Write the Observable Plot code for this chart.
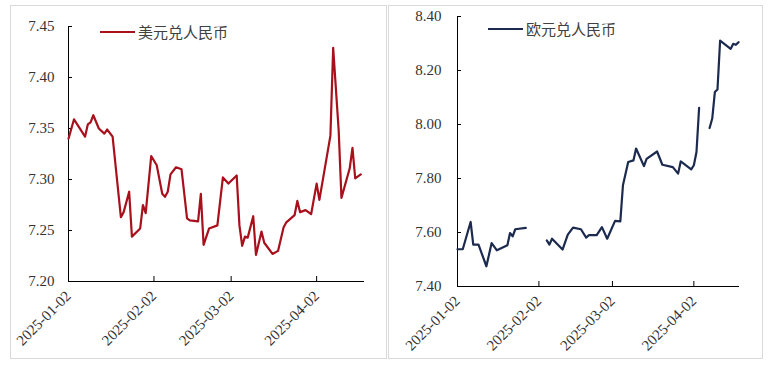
<!DOCTYPE html>
<html><head><meta charset="utf-8">
<script src="https://cdn.jsdelivr.net/npm/d3@7"></script>
<script src="https://cdn.jsdelivr.net/npm/@observablehq/plot@0.6"></script>
<style>
body{margin:0;background:#fff;width:770px;height:369px;position:relative;overflow:hidden}
.panel{position:absolute;border:1px solid #d9d9d9;box-sizing:border-box}
.chart{position:absolute;top:0}
.legend{position:absolute;display:flex;align-items:center;font-family:"Noto Sans CJK SC","Noto Sans",sans-serif;font-size:15px;color:#404040;line-height:20px}
.legend .sw{width:35px;height:2.5px;margin-right:3px}
</style></head><body>
<div class="panel" style="left:10px;top:5px;width:377px;height:354px"></div>
<div class="panel" style="left:388px;top:5px;width:375px;height:354px"></div>
<div id="left" class="chart" style="left:0"></div>
<div id="right" class="chart" style="left:385px"></div>
<div class="legend" style="left:100px;top:22px"><div class="sw" style="background:#a8101c"></div><span>美元兑人民币</span></div>
<div class="legend" style="left:488px;top:19px"><div class="sw" style="background:#1b2a4e"></div><span>欧元兑人民币</span></div>
<script>
const xDomain = ["2025-01-02", "2025-04-19"];
const xTicks = ["2025-01-02", "2025-02-02", "2025-03-02", "2025-04-02"];

const usdLabel = "美元兑人民币";
const usdDates = ["2025-01-02","2025-01-04","2025-01-08","2025-01-09","2025-01-10","2025-01-11","2025-01-13","2025-01-15","2025-01-16","2025-01-18",
"2025-01-21","2025-01-22","2025-01-24","2025-01-25","2025-01-28","2025-01-29","2025-01-30","2025-02-01","2025-02-03","2025-02-05",
"2025-02-06","2025-02-07","2025-02-08","2025-02-10","2025-02-12","2025-02-14","2025-02-15","2025-02-18","2025-02-19","2025-02-20",
"2025-02-22","2025-02-25","2025-02-27","2025-03-01","2025-03-04","2025-03-05","2025-03-06","2025-03-07","2025-03-08","2025-03-10",
"2025-03-11","2025-03-13","2025-03-14","2025-03-17","2025-03-19","2025-03-21","2025-03-22","2025-03-25","2025-03-26","2025-03-27",
"2025-03-29","2025-03-31","2025-04-02","2025-04-03","2025-04-07","2025-04-08","2025-04-10","2025-04-11","2025-04-14","2025-04-15",
"2025-04-16","2025-04-18"];
const usdValues = [7.340,7.359,7.342,7.354,7.356,7.363,7.350,7.345,7.349,7.342,
7.263,7.268,7.288,7.244,7.252,7.275,7.267,7.323,7.314,7.286,
7.283,7.288,7.305,7.312,7.310,7.262,7.260,7.259,7.286,7.236,
7.252,7.255,7.302,7.296,7.304,7.255,7.235,7.244,7.243,7.264,
7.226,7.249,7.238,7.227,7.230,7.253,7.258,7.265,7.279,7.268,
7.270,7.266,7.296,7.280,7.343,7.429,7.348,7.282,7.311,7.331,
7.301,7.305];
const usdYDomain = [7.20, 7.45];
const usdYTicks = [7.20, 7.25, 7.30, 7.35, 7.40, 7.45];

const eurLabel = "欧元兑人民币";
const eurDates = ["2025-01-02","2025-01-04","2025-01-07","2025-01-08","2025-01-10","2025-01-13","2025-01-15","2025-01-17","2025-01-21","2025-01-22",
"2025-01-23","2025-01-24","2025-01-28","2025-02-01","2025-02-05","2025-02-06","2025-02-07","2025-02-11","2025-02-13","2025-02-15",
"2025-02-18","2025-02-20","2025-02-21","2025-02-24","2025-02-26","2025-02-28","2025-03-03","2025-03-05","2025-03-06","2025-03-08",
"2025-03-10","2025-03-11","2025-03-14","2025-03-15","2025-03-19","2025-03-21","2025-03-25","2025-03-27","2025-03-28","2025-04-01",
"2025-04-02","2025-04-03","2025-04-04","2025-04-06","2025-04-08","2025-04-09","2025-04-10","2025-04-11","2025-04-12","2025-04-16",
"2025-04-17","2025-04-18","2025-04-19"];
const eurValues = [7.538,7.538,7.639,7.555,7.555,7.475,7.561,7.534,7.553,7.598,
7.586,7.612,7.617,null,7.571,7.555,7.577,7.537,7.592,7.618,
7.612,7.581,7.590,7.590,7.620,7.577,7.643,7.641,7.775,7.861,
7.867,7.911,7.846,7.873,7.900,7.851,7.842,7.818,7.863,7.834,
7.849,7.898,8.062,null,7.987,8.022,8.120,8.130,8.311,8.280,
8.299,8.295,8.305];
const eurYDomain = [7.40, 8.40];
const eurYTicks = [7.40, 7.60, 7.80, 8.00, 8.20, 8.40];

const parse = d3.utcParse("%Y-%m-%d");
const fmt = d3.utcFormat("%Y-%m-%d");

function panel({dates, values, yDomain, yTicks, color, width, height, ml, mr, mt, mb, pad}) {
  const data = dates.map((d, i) => ({date: parse(d), value: values[i]}));
  const fw = width - ml - mr, fh = height - mt - mb;
  const xt = xTicks.map(parse);
  return Plot.plot({
    width, height, marginLeft: ml, marginRight: mr, marginTop: mt, marginBottom: mb,
    style: {fontFamily: "'Liberation Serif', 'Times New Roman', serif", fontSize: "15px", color: "#333", background: "transparent", overflow: "visible"},
    x: {type: "utc", domain: xDomain.map(parse), label: null},
    y: {domain: yDomain, label: null},
    marks: [
      Plot.axisX(xt, {tickSize: 0, tickRotate: -45, tickFormat: fmt, textAnchor: "end", lineAnchor: "middle", tickPadding: 12, label: null}),
      Plot.axisY(yTicks, {tickSize: 0, tickPadding: pad, tickFormat: d => d.toFixed(2), label: null}),
      Plot.tickX(xt, {x: d => d, insetTop: fh - 5, stroke: "#000"}),
      Plot.tickY(yTicks, {y: d => d, insetRight: fw - 4, stroke: "#000"}),
      Plot.frame({anchor: "left", stroke: "#000"}),
      Plot.frame({anchor: "bottom", stroke: "#000"}),
      Plot.line(data, {x: "date", y: "value", stroke: color, strokeWidth: 2.2})
    ]
  });
}

document.getElementById("left").append(panel({
  dates: usdDates, values: usdValues, yDomain: usdYDomain, yTicks: usdYTicks, color: "#a8101c",
  width: 390, height: 369, ml: 68, mr: 27, mt: 26, mb: 88, pad: 14
}));
document.getElementById("right").append(panel({
  dates: eurDates, values: eurValues, yDomain: eurYDomain, yTicks: eurYTicks, color: "#1b2a4e",
  width: 385, height: 369, ml: 72, mr: 32, mt: 16, mb: 83, pad: 16
}));
</script>
</body></html>
